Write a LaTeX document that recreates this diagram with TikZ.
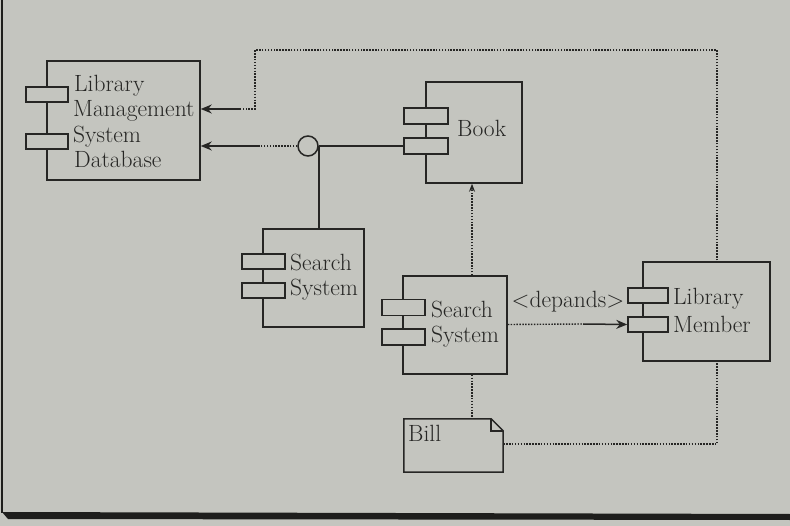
\documentclass[tikz,border=0pt]{standalone}
\usetikzlibrary{arrows.meta,calc}
\definecolor{bg}{RGB}{196,197,191}
\definecolor{ink}{RGB}{38,38,36}
\definecolor{frame}{RGB}{30,30,28}
\tikzset{
  comp/.style={draw=ink, fill=bg, line width=1.5pt, rectangle, inner sep=0pt},
  port/.style={draw=ink, fill=bg, line width=1.5pt, rectangle, inner sep=0pt},
  lbl/.style={text=ink, inner sep=0pt, align=left, font=\fontsize{23.5}{26}\selectfont},
  conn/.style={draw=ink, line width=1.5pt},
  dots/.style={draw=ink, line width=1.4pt, dash pattern=on 1.5pt off 1.4pt},
  tip/.style={-{Stealth[length=11pt,width=9pt]}},
  smalltip/.style={-{Stealth[length=8pt,width=6pt]}},
}
\begin{document}
\begin{tikzpicture}[x=1pt,y=-1pt]
\useasboundingbox (0,0) rectangle (790,526);
\fill[bg] (0,0) rectangle (790,526);
% photo frame
\draw[frame, line width=1.2pt] (2,0) -- (2,513);
\fill[frame] (2,512) -- (790,514) -- (790,520) -- (8,519) -- cycle;

% helper coordinates for dotted route
\coordinate (ra) at (255,50);
\coordinate (rb) at (717,50);
\coordinate (rc) at (717,444);
\coordinate (rd) at (255,109);
\coordinate (re) at (240,109);
\coordinate (ia) at (258,146);
\coordinate (da) at (583,324);

% Bill (dog-eared note)
\node[inner sep=0pt, minimum width=99pt, minimum height=53pt] (bill) at (453.5,445.5) {};
\draw[conn, fill=bg] (bill.north west) -- ([xshift=-12pt]bill.north east) -- ([yshift=-12pt]bill.north east) -- (bill.south east) -- (bill.south west) -- cycle;
\draw[conn] ([xshift=-12pt]bill.north east) -- ([xshift=-12pt,yshift=-12pt]bill.north east) -- ([yshift=-12pt]bill.north east);
\node[lbl, anchor=base west] (billt) at (408,442) {Bill};

% long dotted route from Bill to the database (drawn before Library Member box)
\draw[dots] (bill.east |- rc) -- (rc) -- (rb) -- (ra) -- (rd) -- (re);

% Components
\node[comp, minimum width=153pt, minimum height=119pt] (lmsd) at (123.5,120.5) {};
\node[port, minimum width=42pt, minimum height=15pt] (lmp1) at (47,94.5) {};
\node[port, minimum width=42pt, minimum height=15pt] (lmp2) at (47,141.5) {};
\node[lbl, anchor=base west] (lmsdt1) at (74,92) {Library};
\node[lbl, anchor=base west] (lmsdt2) at (73,117) {Management};
\node[lbl, anchor=base west] (lmsdt3) at (73,142.5) {System};
\node[lbl, anchor=base west] (lmsdt4) at (74,168) {Database};

\node[comp, minimum width=96pt, minimum height=101pt] (book) at (474,132.5) {};
\node[port, minimum width=44pt, minimum height=16pt] (bkp1) at (426,116) {};
\node[port, minimum width=44pt, minimum height=16pt] (bkp2) at (426,146) {};
\node[lbl, anchor=base west] (bookt) at (457,137) {Book};

\node[comp, minimum width=101pt, minimum height=98pt] (ss1) at (313.5,278) {};
\node[port, minimum width=43pt, minimum height=15pt] (s1p1) at (263.5,261.5) {};
\node[port, minimum width=43pt, minimum height=15pt] (s1p2) at (263.5,290.5) {};
\node[lbl, anchor=base west] (ss1t1) at (290,271) {Search};
\node[lbl, anchor=base west] (ss1t2) at (290,296) {System};

\node[comp, minimum width=104pt, minimum height=98pt] (ss2) at (455,325) {};
\node[port, minimum width=43pt, minimum height=16pt] (s2p1) at (403.5,307.5) {};
\node[port, minimum width=43pt, minimum height=16pt] (s2p2) at (403.5,337) {};
\node[lbl, anchor=base west] (ss2t1) at (431,318) {Search};
\node[lbl, anchor=base west] (ss2t2) at (431,343) {System};

\node[comp, minimum width=127pt, minimum height=99pt] (lm) at (706.5,311.5) {};
\node[port, minimum width=40pt, minimum height=15pt] (mp1) at (648,295.5) {};
\node[port, minimum width=40pt, minimum height=15pt] (mp2) at (648,324.5) {};
\node[lbl, anchor=base west] (lmt1) at (673,305) {Library};
\node[lbl, anchor=base west] (lmt2) at (673,333) {Member};

% interface circle
\node[draw=ink, fill=bg, line width=1.5pt, circle, minimum size=20pt, inner sep=0pt] (iface) at (308,146) {};

% Connectors
\draw[conn, tip] (re) -- (lmsd.east |- re);
\draw[dots] (iface.west) -- (ia);
\draw[conn, tip] (ia) -- (lmsd.east |- ia);
\draw[conn] (iface.east) -- (bkp2.west);
\draw[conn] (iface.east) -- (iface.east |- ss1.north);

\draw[dots, smalltip] ([xshift=17pt]ss2.north) -- ([xshift=17pt]ss2.north |- book.south);
\draw[dots] ([xshift=17pt]ss2.south) -- ([xshift=17pt]ss2.south |- bill.north);

\draw[dots] (ss2.east |- mp2.west) -- (da);
\draw[conn, tip] (da) -- (mp2.west);
\node[lbl, anchor=base] (dep) at (568,308) {<depands>};
\end{tikzpicture}
\end{document}
